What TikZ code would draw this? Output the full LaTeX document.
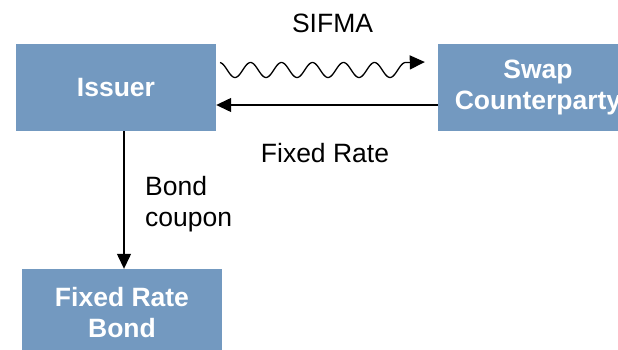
\documentclass[tikz,border=0pt]{standalone}
\usepackage{fontspec}
\setmainfont{Liberation Sans}
\usetikzlibrary{arrows.meta}
\definecolor{boxblue}{RGB}{115,153,192}
\begin{document}
\begin{tikzpicture}[x=1pt,y=-1pt,
  box/.style={rectangle, fill=boxblue, draw=none, minimum width=200pt, minimum height=87pt,
    inner sep=0pt, align=center, text=white, font=\fontsize{26.5}{30.5}\selectfont\bfseries},
  lbl/.style={inner sep=0pt, font=\fontsize{26.5}{31}\selectfont},
  arr/.style={line width=1.3pt, -{Triangle[length=15pt,width=14pt]}}]
\useasboundingbox (0,0) rectangle (618,350);
\clip (0,0) rectangle (618,350);
\fill[white] (0,0) rectangle (618,350);
\node[box] (issuer) at (116,87.5) {Issuer};
\node[box] (swap) at (538,87.5) {Swap\\Counterparty};
\node[box] (bond) at (122,312.5) {Fixed Rate\\Bond};
\node[lbl, anchor=base] (sifma) at (332.5,33) {SIFMA};
\node[lbl, anchor=base] (fixed) at (325,162) {Fixed Rate};
\node[lbl, anchor=north west, align=left] (coupon) at (145,176) {Bond\\coupon};
\coordinate (wtip) at ([xshift=-13pt,yshift=25.5pt]swap.west);
\draw[arr] plot[domain=0:185, samples=160, smooth] ({220+\x},{70+7.5*sin(11.6129*(\x-7.25))}) -- (wtip);
\draw[arr] ([yshift=-17.5pt]swap.west) -- ([yshift=-17.5pt]issuer.east);
\draw[arr] ([xshift=8pt]issuer.south) -- ([xshift=2pt]bond.north);
\end{tikzpicture}
\end{document}
